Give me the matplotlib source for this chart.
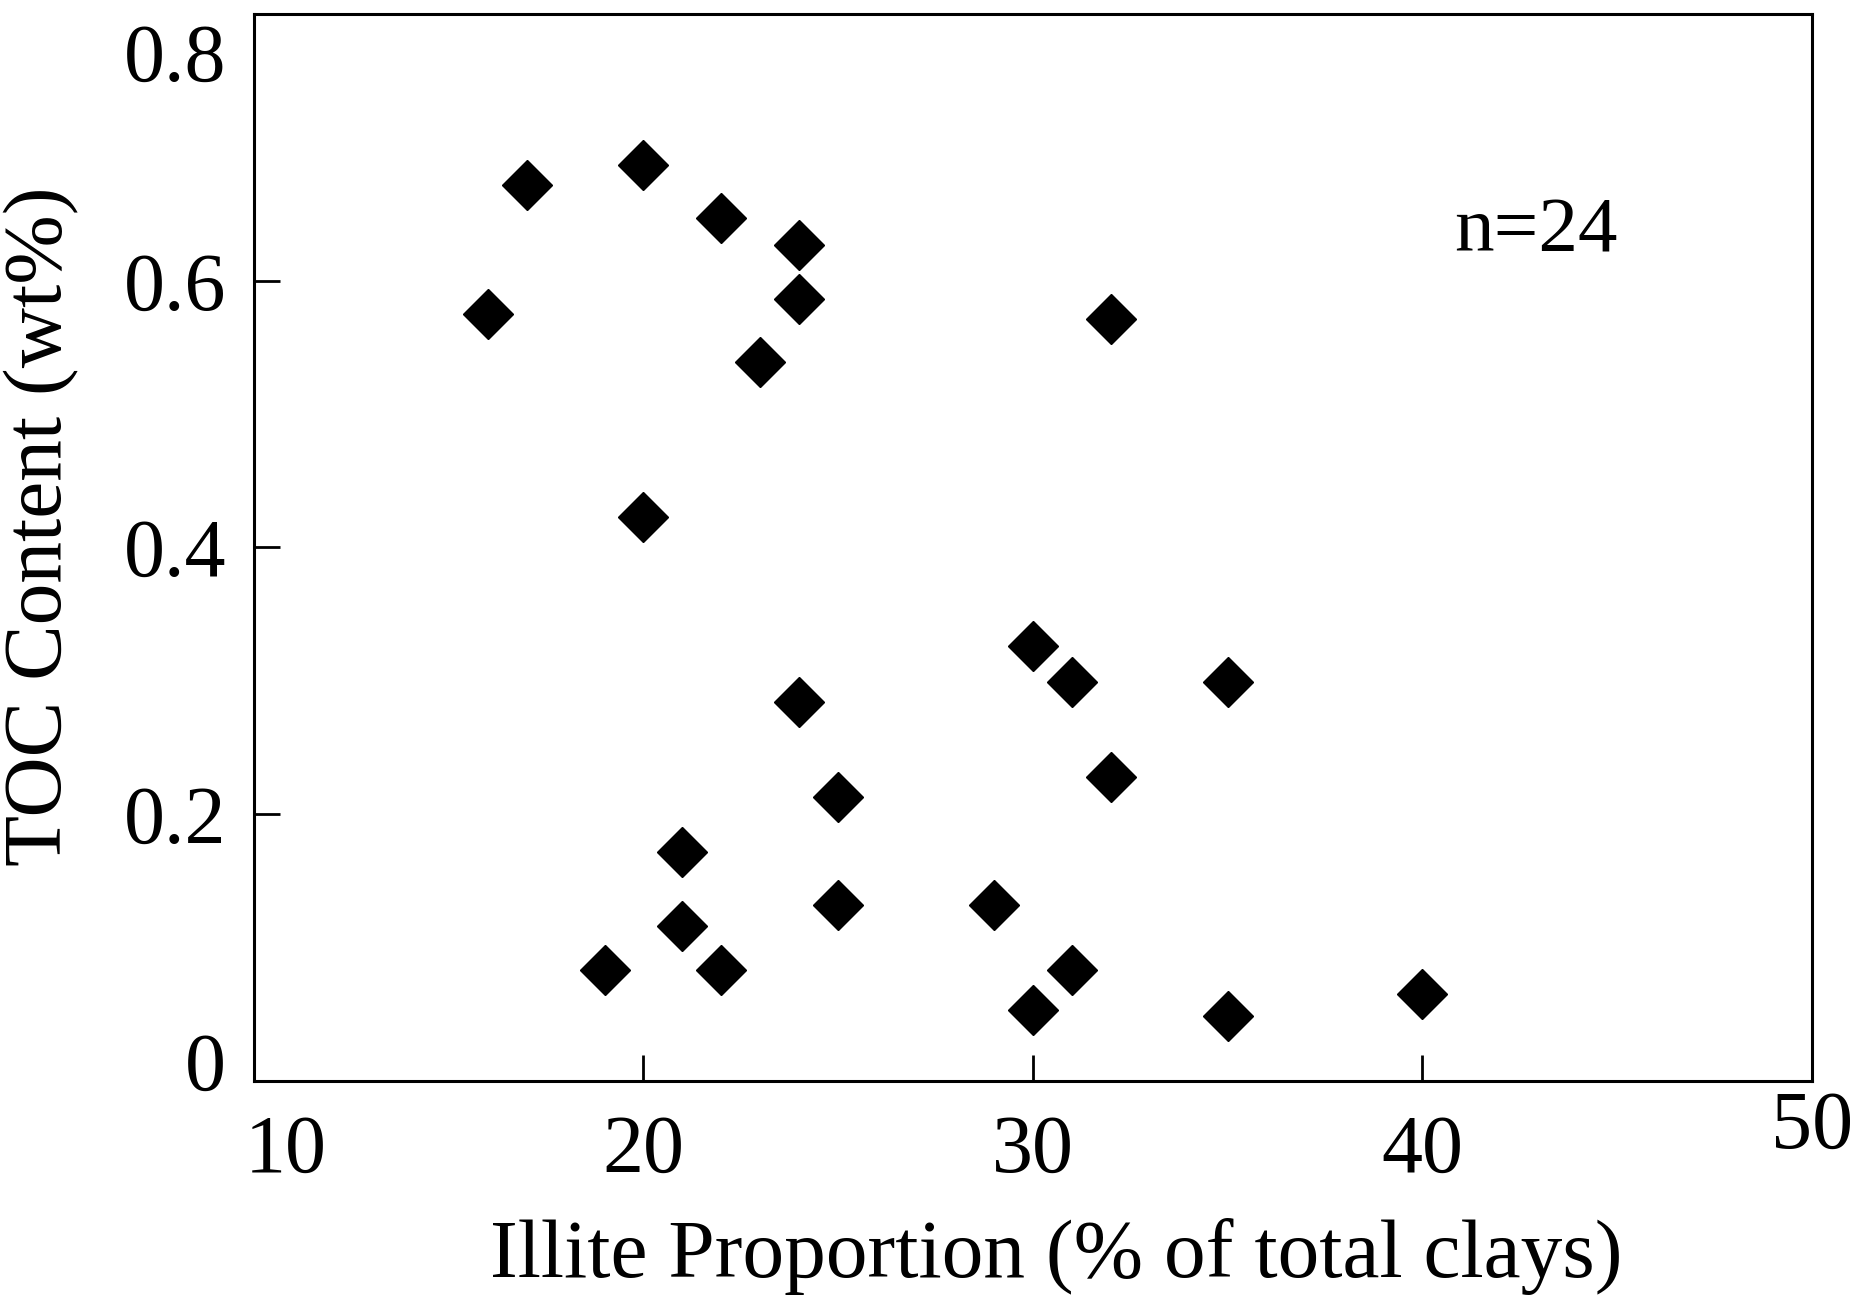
import numpy as np
import matplotlib
matplotlib.use('Agg')
from matplotlib import pyplot as plt
from matplotlib.transforms import ScaledTranslation

# Illite proportion (% of total clays) vs TOC (wt%)
illite = [16, 17, 20, 22, 24, 24, 23, 32, 20, 30, 31, 35, 24,
          32, 25, 21, 21, 25, 29, 19, 22, 31, 30, 35, 40]
toc = [0.575, 0.672, 0.687, 0.647, 0.627, 0.586, 0.539, 0.571, 0.423,
       0.326, 0.299, 0.299, 0.284, 0.228, 0.213, 0.172, 0.116, 0.132,
       0.132, 0.083, 0.083, 0.083, 0.053, 0.049, 0.065]

x_ticks = [10, 20, 30, 40, 50]
y_ticks = [0, 0.2, 0.4, 0.6, 0.8]
y_labels = ['0', '0.2', '0.4', '0.6', '0.8']

plt.rcParams['font.family'] = ['Liberation Serif', 'DejaVu Serif']

fig = plt.figure(figsize=(18.73, 12.95), dpi=100)
ax = fig.add_axes([0.1356, 0.1653, 0.8318, 0.8239])

ax.plot(illite, toc, linestyle='none', marker='D', markersize=25,
        color='black')

ax.set_xlim(10, 50)
ax.set_ylim(0, 0.8)
ax.set_xticks(x_ticks)
ax.set_yticks(y_ticks)
ax.set_yticklabels(y_labels)

ax.tick_params(direction='in', length=19, width=2, labelsize=59,
               top=False, right=False)
ax.tick_params(axis='x', pad=24)
ax.tick_params(axis='y', pad=20)
for s in ax.spines.values():
    s.set_linewidth(2.2)

# hide tick marks at the corners, keep labels
for t in ax.xaxis.get_major_ticks():
    if t.get_loc() in (10, 50):
        t.tick1line.set_visible(False)
for t in ax.yaxis.get_major_ticks():
    if t.get_loc() in (0, 0.8):
        t.tick1line.set_visible(False)

# nudge corner labels as in the original
xl = ax.get_xticklabels()
xl[0].set_transform(xl[0].get_transform() + ScaledTranslation(0.32, 0, fig.dpi_scale_trans))
xl[-1].set_transform(xl[-1].get_transform() + ScaledTranslation(0, 0.24, fig.dpi_scale_trans))
yl = ax.get_yticklabels()
yl[0].set_transform(yl[0].get_transform() + ScaledTranslation(0, 0.2, fig.dpi_scale_trans))
yl[-1].set_transform(yl[-1].get_transform() + ScaledTranslation(0, -0.38, fig.dpi_scale_trans))

ax.set_xlabel('Illite Proportion (% of total clays)', fontsize=60)
ax.xaxis.set_label_coords(0.515, -0.128)
ax.set_ylabel('TOC Content (wt%)', fontsize=60)
ax.yaxis.set_label_coords(-0.112, 0.52)

ax.text(42.9, 0.636, 'n=24', fontsize=57, ha='center', va='center')

fig.savefig('out.png', dpi=100)
